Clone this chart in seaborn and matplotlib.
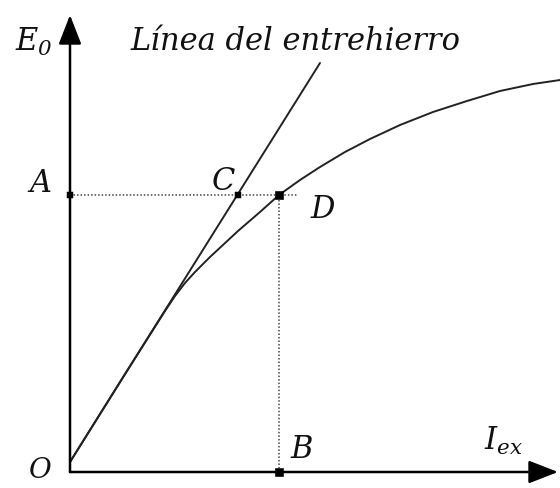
import matplotlib
matplotlib.use("Agg")
import matplotlib.pyplot as plt
import seaborn as sns
import pandas as pd

sns.set_theme(style="white")
plt.rcParams["font.family"] = ["DejaVu Serif"]
plt.rcParams["mathtext.fontset"] = "custom"
plt.rcParams["mathtext.rm"] = "DejaVu Serif:italic"
plt.rcParams["mathtext.it"] = "DejaVu Serif:italic"

# Open-circuit characteristic E0(Iex)
curve_iex = [0.00, 0.55, 0.95, 1.05, 1.15, 1.25, 1.40, 1.68, 1.90, 2.09, 2.30, 2.50,
             2.75, 3.00, 3.30, 3.63, 3.97, 4.30, 4.63, 4.90]
curve_e0 = [0.10, 0.98, 1.61, 1.76, 1.89, 2.00, 2.15, 2.41, 2.60, 2.77, 2.92, 3.05,
            3.20, 3.33, 3.47, 3.60, 3.71, 3.81, 3.88, 3.92]

# Air-gap line
gap_iex = [0.00, 2.50]
gap_e0 = [0.10, 4.09]

# Labelled points
point_names = ["A", "C", "D", "B"]
point_iex = [0.00, 1.68, 2.09, 2.09]
point_e0 = [2.77, 2.77, 2.77, 0.00]

curve_df = pd.DataFrame({"Iex": curve_iex, "E0": curve_e0})
gap_df = pd.DataFrame({"Iex": gap_iex, "E0": gap_e0})
pts_df = pd.DataFrame({"name": point_names, "Iex": point_iex, "E0": point_e0})

fig = plt.figure(figsize=(5.6, 4.88), dpi=100)
ax = fig.add_axes([0, 0, 1, 1])
ax.set_xlim(-0.70, 4.90)
ax.set_ylim(-0.16, 4.72)
ax.axis("off")

# Axes with arrow heads
arrow_kw = dict(arrowstyle="-|>,head_length=0.9,head_width=0.35", color="black",
                lw=1.8, mutation_scale=20, shrinkA=0, shrinkB=0)
ax.annotate("", xy=(4.88, 0), xytext=(0, 0), arrowprops=arrow_kw)
ax.annotate("", xy=(0, 4.57), xytext=(0, 0), arrowprops=arrow_kw)

# Curves
sns.lineplot(data=gap_df, x="Iex", y="E0", ax=ax, color="#222222", lw=1.4,
             estimator=None, sort=False)
sns.lineplot(data=curve_df, x="Iex", y="E0", ax=ax, color="#222222", lw=1.4,
             estimator=None, sort=False)

# Dotted construction lines through D
a_y = pts_df.loc[pts_df.name == "A", "E0"].iloc[0]
d_x = pts_df.loc[pts_df.name == "D", "Iex"].iloc[0]
ax.plot([0, d_x + 0.18], [a_y, a_y], ls=(0, (1, 1.3)), color="#444444", lw=1.1)
ax.plot([d_x, d_x], [0, a_y], ls=(0, (1, 1.3)), color="#444444", lw=1.1)

small = pts_df[pts_df.name.isin(["A", "C"])]
large = pts_df[pts_df.name.isin(["D", "B"])]
sns.scatterplot(data=small, x="Iex", y="E0", ax=ax, marker="s", s=18,
                color="black", edgecolor="black", zorder=5)
sns.scatterplot(data=large, x="Iex", y="E0", ax=ax, marker="s", s=30,
                color="black", edgecolor="black", zorder=5)

txt = dict(fontsize=22, style="italic", color="#111111", ha="center", va="center")
ax.text(-0.36, 4.30, r"$E_0$", **txt)
ax.text(0.60, 4.30, "Línea del entrehierro", ha="left", va="center",
        fontsize=22, style="italic", color="#111111")
ax.text(-0.30, 2.88, "A", **txt)
ax.text(1.54, 2.91, "C", **txt)
ax.text(2.53, 2.63, "D", **txt)
ax.text(2.32, 0.23, "B", **txt)
ax.text(-0.30, 0.01, "O", fontsize=20, style="italic", color="#111111",
        ha="center", va="center")
ax.text(4.33, 0.31, r"$I_{ex}$", **txt)

fig.savefig("out.png", dpi=100)
